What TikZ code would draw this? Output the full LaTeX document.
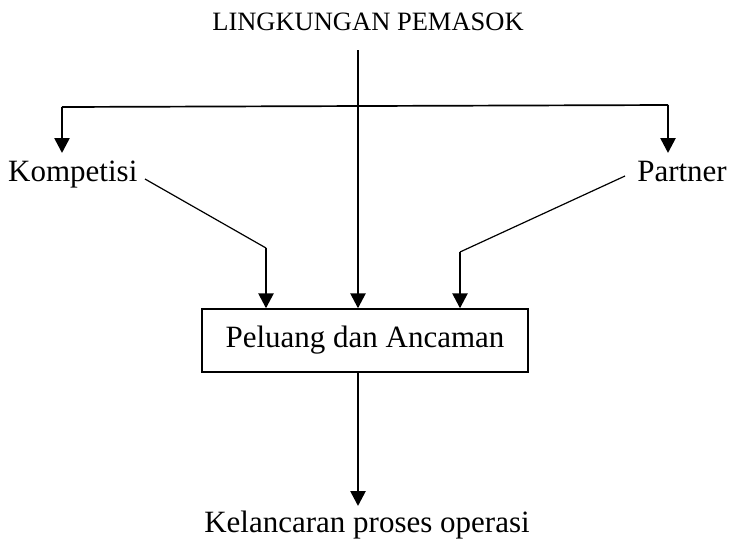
\documentclass[tikz,border=0pt]{standalone}
\usepackage{fontspec}
\setmainfont{Liberation Serif}
\usetikzlibrary{arrows.meta}
\begin{document}
\begin{tikzpicture}[x=1pt,y=-1pt,
  label/.style={inner sep=0pt,font=\fontsize{31}{35}\selectfont},
  title/.style={inner sep=0pt,font=\fontsize{26.5}{30}\selectfont},
  heavy/.style={line width=2.6pt,-{Triangle[width=15pt,length=15pt]}},
  split/.style={line width=1.7pt},
  feed/.style={line width=1.2pt},
  boxed/.style={draw,line width=1.4pt,minimum width=326pt,minimum height=63pt,inner sep=0pt,font=\fontsize{31}{35}\selectfont}]
  \useasboundingbox (0,0) rectangle (730,542);

  % labels and central box
  \node[title,anchor=base] (top) at (368,30) {LINGKUNGAN PEMASOK};
  \node[label,anchor=base west] (komp) at (8,181) {Kompetisi};
  \node[label,anchor=base east] (partner) at (727,181) {Partner};
  \node[boxed] (box) at (365,340.5) {Peluang dan Ancaman};
  \node[label,anchor=base] (out) at (367,532) {Kelancaran proses operasi};

  % routing points
  \coordinate (src) at (358,50);
  \coordinate (hl) at (62,107);
  \coordinate (hr) at (668,105);
  \coordinate (kbend) at (266,248);
  \coordinate (pbend) at (460,252);
  \coordinate (ktail) at (145,179);
  \coordinate (ptail) at (625,176);

  % supplier environment into the box
  \draw[heavy] (src) -- (src |- box.north);
  % distribution bar to both sides
  \draw[split] (hl) -- (hr);
  \draw[heavy] (hl) -- (hl |- 0,153);
  \draw[heavy] (hr) -- (hr |- 0,153);
  % competitors and partners into the box
  \draw[feed] (ktail) -- (kbend);
  \draw[heavy] (kbend) -- (kbend |- box.north);
  \draw[feed] (ptail) -- (pbend);
  \draw[heavy] (pbend) -- (pbend |- box.north);
  % box to outcome
  \draw[heavy] (box.south -| src) -- (src |- 0,506);
\end{tikzpicture}
\end{document}
